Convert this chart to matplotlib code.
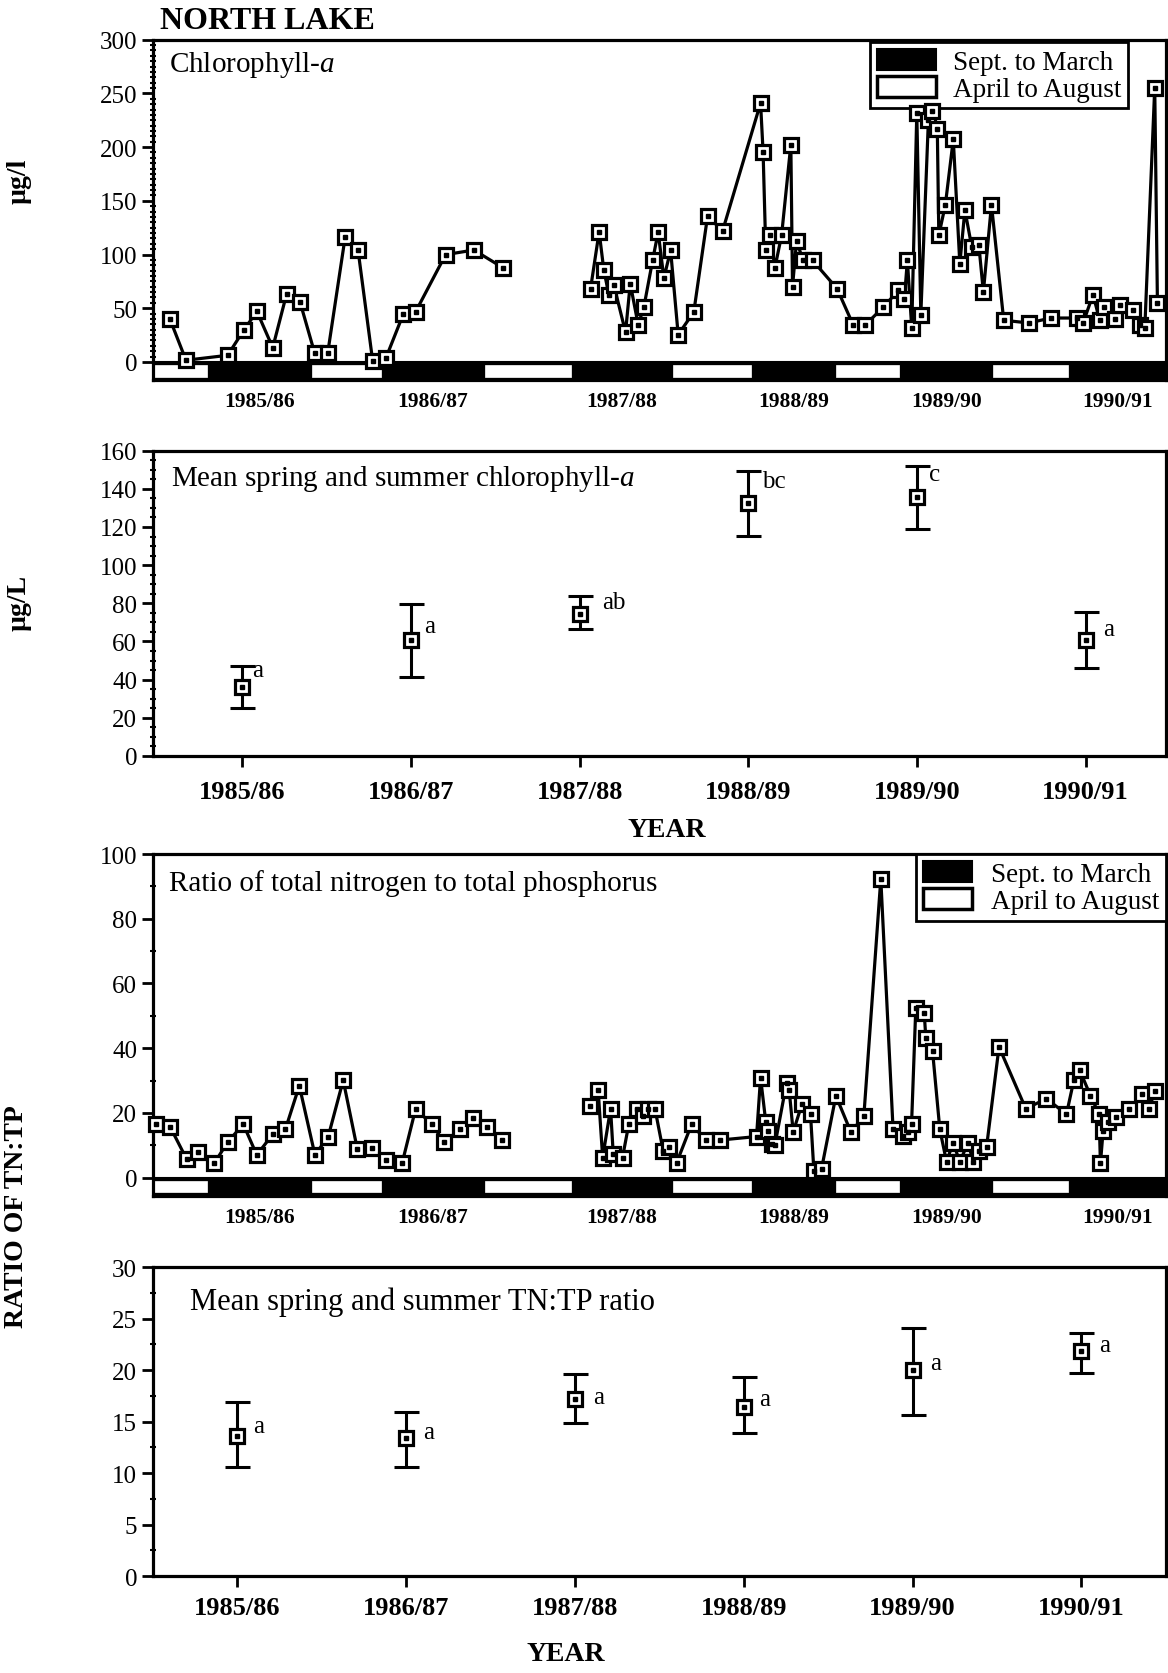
import numpy as np
import matplotlib
matplotlib.use("Agg")
import matplotlib.pyplot as plt
from matplotlib.patches import Patch, Rectangle
from matplotlib.ticker import FixedLocator

plt.rcParams['font.family'] = ['Liberation Serif', 'DejaVu Serif']
plt.rcParams['mathtext.fontset'] = 'custom'
plt.rcParams['mathtext.it'] = 'Liberation Serif:italic'
plt.rcParams['mathtext.rm'] = 'Liberation Serif'

# ---------------- data ----------------
season_edges = [1985.228, 1985.557, 1986.167, 1986.591, 1987.192, 1987.723, 1988.312,
                1988.791, 1989.283, 1989.675, 1990.218, 1990.676, 1991.25]
season_kind = ['Apr-Aug', 'Sep-Mar', 'Apr-Aug', 'Sep-Mar', 'Apr-Aug', 'Sep-Mar',
               'Apr-Aug', 'Sep-Mar', 'Apr-Aug', 'Sep-Mar', 'Apr-Aug', 'Sep-Mar']
year_labels = ['1985/86', '1986/87', '1987/88', '1988/89', '1989/90', '1990/91']

chl_t = [1985.329, 1985.424, 1985.672, 1985.769, 1985.846, 1985.940, 1986.023, 1986.102,
         1986.189, 1986.267, 1986.371, 1986.447, 1986.534, 1986.613, 1986.716, 1986.790,
         1986.968, 1987.136, 1987.311, 1987.57,
         1987.830, 1987.881, 1987.909, 1987.939, 1987.969, 1988.038, 1988.066, 1988.113,
         1988.147, 1988.199, 1988.232, 1988.266, 1988.306, 1988.351, 1988.444, 1988.526,
         1988.615, 1988.841, 1988.856, 1988.872, 1988.900, 1988.926, 1988.966, 1989.021,
         1989.031, 1989.055, 1989.094, 1989.150, 1989.296, 1989.391, 1989.465, 1989.572,
         1989.661, 1989.696, 1989.714, 1989.740, 1989.770, 1989.794, 1989.839, 1989.862,
         1989.892, 1989.901, 1989.940, 1989.987, 1990.026, 1990.056, 1990.097, 1990.139,
         1990.166, 1990.214, 1990.287, 1990.436, 1990.567, 1990.723, 1990.759, 1990.818,
         1990.858, 1990.884, 1990.947, 1990.977, 1991.053, 1991.096, 1991.126, 1991.185,
         1991.201]
chl_v = [39.7, 1.6, 6.2, 30.0, 47.0, 13.3, 63.6, 56.0,
         8.4, 8.4, 116.6, 104.5, 1.2, 3.7, 44.4, 46.8,
         99.9, 104.2, 87.5, np.nan,
         68.2, 121.2, 85.3, 62.7, 71.3, 27.6, 73.0, 34.7,
         51.0, 94.6, 121.0, 78.0, 104.0, 25.4, 46.5, 135.9,
         121.9, 241.0, 195.4, 104.2, 117.9, 87.5, 117.9, 202.3,
         70.1, 112.5, 94.6, 94.6, 68.2, 34.7, 34.7, 51.2,
         66.7, 58.3, 94.6, 31.6, 232.0, 44.0, 225.0, 233.7,
         217.0, 117.9, 146.4, 207.2, 91.4, 141.4, 107.0, 108.6,
         65.2, 146.4, 38.8, 36.3, 40.9, 40.9, 36.3, 62.7,
         38.8, 51.2, 40.3, 52.7, 48.1, 34.1, 31.6, 255.3,
         55.2]

tn_t = [1985.246, 1985.329, 1985.428, 1985.497, 1985.592, 1985.672, 1985.765, 1985.845,
        1985.940, 1986.015, 1986.098, 1986.191, 1986.270, 1986.359, 1986.443, 1986.528,
        1986.613, 1986.710, 1986.790, 1986.885, 1986.960, 1987.053, 1987.132, 1987.216,
        1987.301, 1987.56,
        1987.826, 1987.875, 1987.902, 1987.949, 1987.965, 1988.020, 1988.058, 1988.107,
        1988.139, 1988.171, 1988.213, 1988.262, 1988.298, 1988.342, 1988.431, 1988.514,
        1988.599, 1988.817, 1988.841, 1988.872, 1988.886, 1988.908, 1988.926, 1988.996,
        1989.011, 1989.035, 1989.088, 1989.138, 1989.158, 1989.204, 1989.289, 1989.378,
        1989.455, 1989.556, 1989.629, 1989.689, 1989.718, 1989.739, 1989.764, 1989.814,
        1989.824, 1989.864, 1989.907, 1989.947, 1989.986, 1990.026, 1990.075, 1990.105,
        1990.141, 1990.185, 1990.259, 1990.418, 1990.541, 1990.660, 1990.704, 1990.739,
        1990.803, 1990.854, 1990.862, 1990.878, 1990.907, 1990.953, 1991.032, 1991.112,
        1991.151, 1991.185]
tn_v = [16.5, 15.8, 5.7, 7.9, 4.4, 11.0, 16.5, 7.0,
        13.4, 14.9, 28.4, 7.0, 12.7, 30.1, 8.8, 9.3,
        5.5, 4.6, 21.3, 16.5, 11.0, 14.9, 18.5, 15.8,
        11.6, np.nan,
        22.2, 27.1, 6.2, 21.3, 7.2, 6.2, 16.7, 21.1,
        19.1, 21.1, 21.3, 8.2, 9.5, 4.6, 16.5, 11.6,
        11.6, 12.7, 30.9, 17.2, 14.4, 10.3, 10.0, 29.4,
        27.1, 14.1, 22.9, 19.6, 2.1, 2.8, 25.3, 14.1,
        18.9, 92.3, 14.9, 12.9, 14.1, 16.7, 52.4, 51.0,
        43.0, 39.0, 14.9, 4.9, 10.8, 4.9, 10.8, 4.9,
        8.2, 9.5, 40.4, 21.3, 24.4, 19.6, 30.1, 33.2,
        25.3, 19.6, 4.4, 14.4, 17.2, 18.8, 21.1, 26.0,
        21.1, 26.8]

mean_chl = [36.2, 60.7, 74.3, 132.5, 135.5, 60.7]
mean_chl_lo = [25.3, 41.6, 66.3, 115.4, 119.2, 46.0]
mean_chl_hi = [47.2, 79.9, 83.9, 149.5, 152.1, 75.7]
chl_letters = ['a', 'a', 'ab', 'bc', 'c', 'a']

mean_tn = [13.6, 13.4, 17.2, 16.4, 20.05, 21.85]
mean_tn_lo = [10.6, 10.6, 14.9, 13.9, 15.65, 19.7]
mean_tn_hi = [16.9, 15.9, 19.6, 19.3, 24.1, 23.6]
tn_letters = ['a', 'a', 'a', 'a', 'a', 'a']

# ---------------- styling helpers ----------------
LW = 2.3

fig = plt.figure(figsize=(11.68, 16.74), dpi=100)
ax1 = fig.add_axes([0.131, 0.7724, 0.867, 0.2033])
ax2 = fig.add_axes([0.131, 0.5478, 0.867, 0.1824])
ax3 = fig.add_axes([0.131, 0.2851, 0.867, 0.2041])
ax4 = fig.add_axes([0.131, 0.0579, 0.867, 0.1846])

for ax in (ax1, ax2, ax3, ax4):
    for s in ax.spines.values():
        s.set_linewidth(LW)
    ax.tick_params(axis='y', which='major', direction='out', length=8, width=2,
                   labelsize=18, pad=3.5)
    ax.tick_params(axis='y', which='minor', direction='inout', length=5, width=1.5)


def season_bar(ax, depth):
    ax.add_patch(Rectangle((season_edges[0], -depth), season_edges[-1] - season_edges[0],
                           depth, facecolor='black', edgecolor='black', lw=1.5, zorder=2))
    for i, kind in enumerate(season_kind):
        x0, x1 = season_edges[i], season_edges[i + 1]
        if kind == 'Apr-Aug':
            ax.add_patch(Rectangle((x0 + 0.008, -depth * 0.82), x1 - x0 - 0.016, depth * 0.64,
                                   facecolor='white', edgecolor='white', lw=0.5, zorder=2.5))
    centers = [(season_edges[i] + season_edges[i + 1]) / 2
               for i, k in enumerate(season_kind) if k == 'Sep-Mar']
    ax.set_xticks(centers)
    ax.set_xticklabels(year_labels, fontweight='bold')
    ax.tick_params(axis='x', length=0, pad=8, labelsize=15.5)


def series(ax, t, v):
    ax.plot(t, v, color='black', lw=2.3, marker='s', ms=9.5, mfc='white', mec='black',
            mew=2.3, zorder=4, clip_on=False)
    ax.plot(t, v, ls='none', marker='s', ms=2.8, color='black', zorder=5, clip_on=False)


def season_legend(ax, anchor, fs, hl, pad):
    handles = [Patch(facecolor='black', edgecolor='black', lw=1.5, label='Sept. to March'),
               Patch(facecolor='white', edgecolor='black', lw=2.5, label='April to August')]
    leg = ax.legend(handles=handles, loc='upper right', bbox_to_anchor=anchor,
                    borderaxespad=0, fancybox=False, framealpha=1, edgecolor='black',
                    fontsize=fs, handlelength=hl, handleheight=0.8, labelspacing=0.05,
                    borderpad=0.25, handletextpad=pad)
    leg.get_frame().set_linewidth(2)
    leg.set_zorder(3)


def means(ax, m, lo, hi, letters, offs):
    x = np.arange(len(m))
    m = np.asarray(m)
    yerr = [m - np.asarray(lo), np.asarray(hi) - m]
    ax.errorbar(x, m, yerr=yerr, fmt='none', ecolor='black', elinewidth=2.2,
                capsize=9, capthick=2.2, zorder=3)
    ax.plot(x, m, ls='none', marker='s', ms=9.5, mfc='white', mec='black', mew=2.3, zorder=4)
    ax.plot(x, m, ls='none', marker='s', ms=2.8, color='black', zorder=5)
    for xi, yi, lab, (dx, dy) in zip(x, m, letters, offs):
        ax.annotate(lab, (xi, yi), xytext=(dx, dy), textcoords='offset points',
                    ha='left', va='center', fontsize=18)
    ax.set_xticks(x)
    ax.set_xticklabels(year_labels, fontweight='bold')


# ---------------- panel 1 ----------------
series(ax1, chl_t, chl_v)
ax1.set_xlim(season_edges[0], season_edges[-1])
ax1.set_ylim(-16.8, 300)
season_bar(ax1, 16.8)
ax1.set_yticks(np.arange(0, 301, 50))
ax1.yaxis.set_minor_locator(FixedLocator(np.arange(0, 301, 5)))
ax1.text(0.016, 0.93, 'Chlorophyll-$\\mathit{a}$', transform=ax1.transAxes,
         fontsize=21, va='center', ha='left')
season_legend(ax1, (0.9625, 0.993), 19.5, 2.2, 0.6)

# ---------------- panel 2 ----------------
means(ax2, mean_chl, mean_chl_lo, mean_chl_hi, chl_letters,
      [(7, 12), (9.5, 10), (16, 8.5), (10, 16), (9, 16.5), (13, 8)])
ax2.set_xlim(-0.53, 5.475)
ax2.set_ylim(0, 160)
ax2.set_yticks(np.arange(0, 161, 20))
ax2.yaxis.set_minor_locator(FixedLocator(np.arange(0, 161, 5)))
ax2.tick_params(axis='x', direction='out', length=8, width=2, pad=9, labelsize=19)
ax2.text(0.018, 0.91, 'Mean spring and summer chlorophyll-$\\mathit{a}$',
         transform=ax2.transAxes, fontsize=21, va='center', ha='left')

# ---------------- panel 3 ----------------
series(ax3, tn_t, tn_v)
ax3.set_xlim(season_edges[0], season_edges[-1])
ax3.set_ylim(-5.6, 100)
season_bar(ax3, 5.6)
ax3.set_yticks(np.arange(0, 101, 20))
ax3.yaxis.set_minor_locator(FixedLocator(np.arange(0, 101, 10)))
ax3.text(0.016, 0.918, 'Ratio of total nitrogen to total phosphorus',
         transform=ax3.transAxes, fontsize=21, va='center', ha='left')
season_legend(ax3, (1.0, 1.0), 19.5, 1.8, 0.7)

# ---------------- panel 4 ----------------
means(ax4, mean_tn, mean_tn_lo, mean_tn_hi, tn_letters,
      [(11, 7), (12, 4), (13, 1.5), (11, 6), (13, 4.5), (13, 4)])
ax4.set_xlim(-0.5, 5.5)
ax4.set_ylim(0, 30)
ax4.set_yticks(np.arange(0, 31, 5))
ax4.yaxis.set_minor_locator(FixedLocator(np.arange(0, 31, 2.5)))
ax4.tick_params(axis='x', direction='out', length=8, width=2, pad=6.5, labelsize=19)
ax4.text(0.0365, 0.888, 'Mean spring and summer TN:TP ratio',
         transform=ax4.transAxes, fontsize=22, va='center', ha='left')

# ---------------- figure labels ----------------
fig.text(0.2286, 0.9872, 'NORTH LAKE', fontsize=23, fontweight='bold', ha='center', va='center')
fig.text(0.0163, 0.8916, 'µg/l', fontsize=20, fontweight='bold', rotation=90,
         ha='center', va='center')
fig.text(0.0163, 0.6398, 'µg/L', fontsize=20, fontweight='bold', rotation=90,
         ha='center', va='center')
fig.text(0.0137, 0.273, 'RATIO OF TN:TP', fontsize=20, fontweight='bold', rotation=90,
         ha='center', va='center')
fig.text(0.571, 0.5038, 'YEAR', fontsize=20, fontweight='bold', ha='center', va='center')
fig.text(0.4845, 0.0114, 'YEAR', fontsize=20, fontweight='bold', ha='center', va='center')

fig.savefig('out.png', dpi=100, facecolor='white')
